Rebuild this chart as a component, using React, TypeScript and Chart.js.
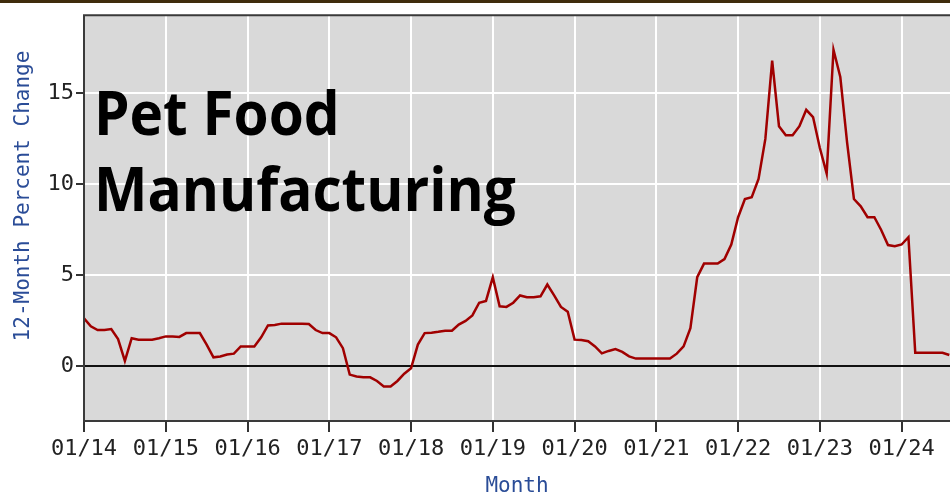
import React, { useEffect, useRef } from "react";
import { Chart, registerables } from "chart.js";

Chart.register(...registerables);

// Monthly 12-month percent change, Jan 2014 (index 0) .. Aug 2024 (index 127)
const values: number[] = [
  2.65, 2.2, 2.0, 2.0, 2.05, 1.5, 0.3, 1.55, 1.47, 1.47, 1.47, 1.55,
  1.65, 1.65, 1.62, 1.83, 1.83, 1.83, 1.2, 0.5, 0.55, 0.65, 0.7, 1.1,
  1.1, 1.1, 1.6, 2.25, 2.28, 2.35, 2.35, 2.35, 2.35, 2.33, 2.0, 1.83,
  1.83, 1.6, 1.0, -0.45, -0.55, -0.6, -0.6, -0.8, -1.1, -1.1, -0.8, -0.4,
  -0.1, 1.2, 1.83, 1.85, 1.9, 1.96, 1.96, 2.3, 2.5, 2.8, 3.5, 3.6,
  4.9, 3.3, 3.27, 3.5, 3.9, 3.8, 3.8, 3.85, 4.5, 3.9, 3.27, 3.0,
  1.47, 1.45, 1.38, 1.1, 0.72, 0.85, 0.95, 0.8, 0.55, 0.43, 0.43, 0.43,
  0.43, 0.43, 0.43, 0.7, 1.1, 2.1, 4.9, 5.65, 5.65, 5.65, 5.9, 6.7,
  8.2, 9.2, 9.3, 10.3, 12.5, 16.8, 13.2, 12.7, 12.7, 13.2, 14.1, 13.7,
  12.0, 10.6, 17.4, 15.9, 12.3, 9.2, 8.8, 8.2, 8.2, 7.5, 6.67, 6.6,
  6.7, 7.1, 0.75, 0.75, 0.75, 0.75, 0.75, 0.63,
];

const xTickValues: number[] = [0, 12, 24, 36, 48, 60, 72, 84, 96, 108, 120];
const xTickLabels: string[] = [
  "01/14", "01/15", "01/16", "01/17", "01/18", "01/19",
  "01/20", "01/21", "01/22", "01/23", "01/24",
];
const yTickValues: number[] = [0, 5, 10, 15];
const yTitle = "12-Month Percent Change";
const xTitle = "Month";
const overlayLines: string[] = ["Pet Food", "Manufacturing"];

const MONO = "'DejaVu Sans Mono', monospace";
const BLUE = "#2a4c97";

const decorPlugin = {
  id: "decor",
  beforeDraw(chart: any) {
    const { ctx, chartArea: a, width } = chart;
    ctx.save();
    ctx.fillStyle = "#ffffff";
    ctx.fillRect(0, 0, width, chart.height);
    ctx.fillStyle = "#3f2c0c";
    ctx.fillRect(0, 0, width, 3);
    ctx.fillStyle = "#d9d9d9";
    ctx.fillRect(a.left, a.top, a.right - a.left, a.bottom - a.top);
    ctx.restore();
  },
  afterDraw(chart: any) {
    const { ctx, chartArea: a } = chart;
    ctx.save();
    ctx.strokeStyle = "#3a3a3a";
    ctx.lineWidth = 2;
    ctx.beginPath();
    ctx.moveTo(a.right + 2, a.top);
    ctx.lineTo(a.left, a.top);
    ctx.lineTo(a.left, a.bottom);
    ctx.lineTo(a.right + 2, a.bottom);
    ctx.stroke();

    // axis titles
    ctx.fillStyle = BLUE;
    ctx.font = `21px ${MONO}`;
    ctx.textAlign = "center";
    ctx.textBaseline = "middle";
    ctx.fillText(xTitle, 517, 487);
    ctx.translate(24, 196);
    ctx.rotate(-Math.PI / 2);
    ctx.fillText(yTitle, 0, 0);
    ctx.restore();

    // overlay title
    ctx.save();
    ctx.fillStyle = "#000000";
    ctx.font = "bold 60px 'Open Sans', 'Noto Sans', sans-serif";
    ctx.textAlign = "left";
    ctx.textBaseline = "alphabetic";
    ctx.translate(94, 0);
    ctx.scale(0.945, 1);
    ctx.fillText(overlayLines[0], 0, 135);
    ctx.fillText(overlayLines[1], 0, 211);
    ctx.restore();
  },
};

export default function App() {
  const ref = useRef<HTMLCanvasElement | null>(null);
  useEffect(() => {
    if (!ref.current) return;
    const chart = new Chart(ref.current, {
      type: "line",
      data: {
        datasets: [
          {
            data: values.map((v, i) => ({ x: i, y: v })),
            borderColor: "#a00000",
            borderWidth: 2.5,
            pointRadius: 0,
            tension: 0,
            fill: false,
          },
        ],
      },
      options: {
        animation: false,
        responsive: true,
        maintainAspectRatio: false,
        layout: { padding: { top: 7, left: 0, right: 0, bottom: 0 } },
        plugins: {
          legend: { display: false },
          tooltip: { enabled: false },
          title: { display: false },
        },
        scales: {
          x: {
            type: "linear",
            min: 0,
            max: 127.1,
            afterFit: (s: any) => {
              s.height = 80;
            },
            afterBuildTicks: (s: any) => {
              s.ticks = xTickValues.map((v) => ({ value: v }));
            },
            border: { display: false },
            grid: {
              color: "#ffffff",
              lineWidth: 2,
              tickLength: 11,
              tickColor: "#333333",
              tickWidth: 2,
            },
            ticks: {
              autoSkip: false,
              maxRotation: 0,
              padding: 4,
              color: "#222222",
              font: { family: MONO, size: 22 },
              callback: (v: any) => {
                const idx = xTickValues.indexOf(Number(v));
                return idx >= 0 ? xTickLabels[idx] : "";
              },
            },
          },
          y: {
            type: "linear",
            min: -3,
            max: 19.3,
            afterFit: (s: any) => {
              s.width = 84;
            },
            afterBuildTicks: (s: any) => {
              s.ticks = yTickValues.map((v) => ({ value: v }));
            },
            border: { display: false },
            grid: {
              color: (c: any) => (c.tick && c.tick.value === 0 ? "#111111" : "#ffffff"),
              lineWidth: 2,
              tickLength: 8,
              tickColor: "#333333",
              tickWidth: 2,
            },
            ticks: {
              padding: 2,
              color: "#222222",
              font: { family: MONO, size: 22 },
            },
          },
        },
      },
      plugins: [decorPlugin],
    });
    return () => chart.destroy();
  }, []);

  return (
    <div style={{ position: "fixed", left: 0, top: 0, width: 950, height: 501, background: "#fff" }}>
      <canvas ref={ref} />
    </div>
  );
}
